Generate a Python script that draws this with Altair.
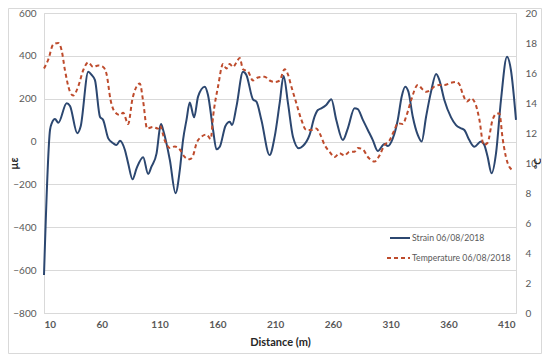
import altair as alt
import pandas as pd

# ---- data ----
strain_x = [10, 15.2, 16.7, 19.5, 22.4, 29.6, 32.5, 38.8, 41.7, 48.3, 51.2, 54.1, 58.4, 61.2,
            65.6, 69.9, 72.8, 75.7, 80.0, 82.8, 86.6, 90.1, 95.8, 100.1, 103.0, 107.4, 110.5,
            111.3, 113.1, 118.9, 123.8, 127.5, 130.3, 133.3, 136.1, 139.9, 143.3, 149.1, 151.9,
            156.3, 159.2, 162.1, 167.0, 170.7, 172.7, 176.5, 182.2, 185.1, 190.8, 193.8, 198.1,
            205.2, 209.6, 213.9, 217.3, 221.1, 225.4, 230.6, 234.0, 239.8, 244.1, 247.0, 249.9,
            254.2, 258.6, 262.9, 268.6, 272.9, 278.7, 281.5, 285.9, 290.2, 294.5, 298.8, 304.6,
            307.5, 311.8, 316.1, 319.5, 322.5, 325.3, 329.1, 333.4, 336.8, 340.6, 344.9, 349.3,
            352.1, 356.4, 362.2, 366.5, 370.9, 373.7, 378.0, 382.4, 388.1, 391.0, 393.8, 397.3,
            401.1, 405.4, 410.6, 414.0, 418.4]
strain_ue = [-623, 54, 85, 105, 88, 179, 166, 39, 70, 326, 311, 287, 116, 101,
             15, -8, -16, 4, -39, -101, -176, -125, -73, -151, -117, -55, 70,
             82, 54, -86, -241, -133, 7, 101, 182, 113, 210, 256, 217,
             54, -36, -24, 73, 93, 77, 163, 326, 311, 197, 186, 101,
             -63, 23, 179, 306, 179, 23, -31, -21, 31, 116, 147, 155,
             171, 197, 101, 7, 62, 155, 151, 101, 54, 7, -44, -11,
             -21, 15, 101, 210, 256, 233, 116, 31, 0, 116, 233, 315,
             287, 194, 113, 77, 62, 54, 7, -24, 0, -16, -70, -148,
             -55, 194, 396, 334, 101]

temp_x = [10, 13.7, 18.0, 22.4, 25.3, 28.1, 32.5, 35.3, 39.6, 44.0, 48.3, 52.6, 56.9, 61.2,
          64.2, 67.6, 71.3, 75.7, 78.5, 82.8, 86.6, 92.9, 95.8, 99.2, 104.4, 108.7, 110.2,
          114.5, 118.9, 123.2, 127.5, 131.8, 136.1, 139.0, 141.9, 146.2, 150.6, 154.3, 156.3,
          160.6, 164.9, 167.8, 170.7, 173.5, 176.5, 179.3, 182.2, 186.5, 190.8, 195.1, 200.9,
          205.2, 209.6, 213.9, 218.2, 221.1, 224.0, 228.3, 232.6, 237.0, 241.3, 245.6, 248.4,
          252.8, 257.1, 261.4, 265.7, 270.0, 274.4, 278.7, 281.5, 285.9, 290.2, 296.0, 300.3,
          304.6, 308.9, 313.2, 316.1, 320.4, 323.4, 327.7, 333.4, 337.7, 340.6, 344.9, 347.8,
          352.1, 356.4, 362.2, 366.5, 369.4, 372.3, 376.0, 379.5, 383.0, 386.7, 390.4, 393.8,
          398.2, 402.0, 404.0, 406.8, 409.7, 412.6, 416.3]
temp_c = [16.3, 16.9, 17.9, 18.0, 17.5, 16.2, 14.75, 14.5, 15.1, 16.2, 16.7, 16.4, 16.5, 16.4,
          15.9, 14.2, 13.4, 13.2, 13.35, 12.6, 14.3, 15.3, 14.1, 12.3, 12.4, 12.3, 12.5,
          11.5, 11.0, 11.1, 10.9, 10.4, 10.25, 10.5, 11.3, 11.75, 11.9, 11.6, 13.1,
          15.1, 16.6, 16.3, 16.6, 16.4, 16.7, 17.0, 16.25, 16.1, 15.5, 15.7, 15.75,
          15.5, 15.4, 15.5, 16.25, 15.9, 15.1, 14.0, 12.9, 12.2, 12.2, 12.3, 12.0,
          11.2, 10.75, 10.4, 10.65, 10.5, 10.75, 10.75, 11.0, 10.9, 10.4, 10.1, 10.5,
          11.2, 11.5, 12.2, 12.65, 12.6, 13.1, 14.2, 15.2, 14.9, 14.75, 14.9, 15.1,
          15.2, 15.2, 15.35, 15.4, 15.25, 14.6, 14.1, 14.3, 14.0, 12.9, 11.2, 11.35,
          12.9, 13.3, 13.3, 11.65, 10.4, 9.75, 9.5]

x_ticks = [10, 60, 110, 160, 210, 260, 310, 360, 410]
strain_ticks = [-800, -600, -400, -200, 0, 200, 400, 600]
temp_ticks = [0, 2, 4, 6, 8, 10, 12, 14, 16, 18, 20]
series_names = ["Strain 06/08/2018", "Temperature 06/08/2018"]

strain_df = pd.DataFrame({"Distance": strain_x, "Strain": strain_ue})
temp_df = pd.DataFrame({"Distance": temp_x, "Temperature": temp_c})
one = pd.DataFrame({"k": [0]})

FONT = "Lato"
GRAY = "#595959"
GRID = "#d9d9d9"
BLUE = "#2C4770"
RED = "#BE4B2C"

W, H = 472, 300

xscale = alt.Scale(domain=[10, 418.4], nice=False, zero=False)
xaxis = alt.Axis(title="Distance (m)", values=x_ticks, grid=False, ticks=False,
                 domainColor=GRID, labelFont=FONT, labelFontSize=10, labelFontWeight="bold",
                 labelColor=GRAY, labelPadding=6, titleFont=FONT, titleFontSize=11,
                 titleFontWeight="bold", titleColor="#262626", titleY=29,
                 titleBaseline="middle")

strain_line = alt.Chart(strain_df).mark_line(
    color=BLUE, strokeWidth=2, interpolate="monotone"
).encode(
    x=alt.X("Distance:Q", scale=xscale, axis=xaxis),
    y=alt.Y("Strain:Q", scale=alt.Scale(domain=[-800, 600], nice=False, zero=False),
            axis=alt.Axis(title="µε", values=strain_ticks, grid=True, gridColor=GRID,
                          ticks=False, domainColor=GRID, labelFont=FONT, labelFontSize=10,
                          labelColor=GRAY, labelPadding=8, titleFont=FONT,
                          titleFontSize=11, titleFontWeight="bold", titleColor="#262626",
                          titleAngle=270, titleX=-30, titleY=150, titleAlign="center",
                          titleBaseline="middle", orient="left")),
)

temp_line = alt.Chart(temp_df).mark_line(
    color=RED, strokeWidth=2, strokeDash=[4, 3], interpolate="monotone"
).encode(
    x=alt.X("Distance:Q", scale=xscale, axis=xaxis),
    y=alt.Y("Temperature:Q", scale=alt.Scale(domain=[0, 20], nice=False, zero=False),
            axis=alt.Axis(title="°C", values=temp_ticks, grid=False, ticks=False,
                          domainColor=GRID, labelFont=FONT, labelFontSize=10,
                          labelColor=GRAY, labelPadding=9, titleFont=FONT,
                          titleFontSize=10, titleFontWeight="bold", titleColor="#262626",
                          titleAngle=270, titleX=21, titleY=150, titleAlign="center",
                          titleBaseline="middle", orient="right")),
)

border = alt.Chart(one).mark_rect(fill=None, stroke=GRID, strokeWidth=1).encode(
    x=alt.value(-35.5), x2=alt.value(497.5), y=alt.value(-4.5), y2=alt.value(340.5)
)

leg_strain = alt.Chart(one).mark_rule(color=BLUE, strokeWidth=2).encode(
    x=alt.value(346), x2=alt.value(366), y=alt.value(225)
)
leg_temp = alt.Chart(one).mark_rule(color=RED, strokeWidth=2, strokeDash=[4, 3]).encode(
    x=alt.value(343), x2=alt.value(366), y=alt.value(245)
)
leg_text1 = alt.Chart(one).mark_text(align="left", baseline="middle", font=FONT,
                                     fontSize=8.7, color=GRAY,
                                     text=series_names[0]).encode(
    x=alt.value(368), y=alt.value(225)
)
leg_text2 = alt.Chart(one).mark_text(align="left", baseline="middle", font=FONT,
                                     fontSize=8.7, color=GRAY,
                                     text=series_names[1]).encode(
    x=alt.value(368), y=alt.value(245)
)

chart = alt.layer(
    border, strain_line, temp_line, leg_strain, leg_temp, leg_text1, leg_text2
).resolve_scale(y="independent").properties(
    width=W, height=H,
    autosize=alt.AutoSizeParams(type="none"),
    padding={"left": 36, "top": 5, "right": 26, "bottom": 41},
).configure_view(stroke=None).configure(background="white")

chart.save("out.html", embed_options={"renderer": "svg", "actions": False})
